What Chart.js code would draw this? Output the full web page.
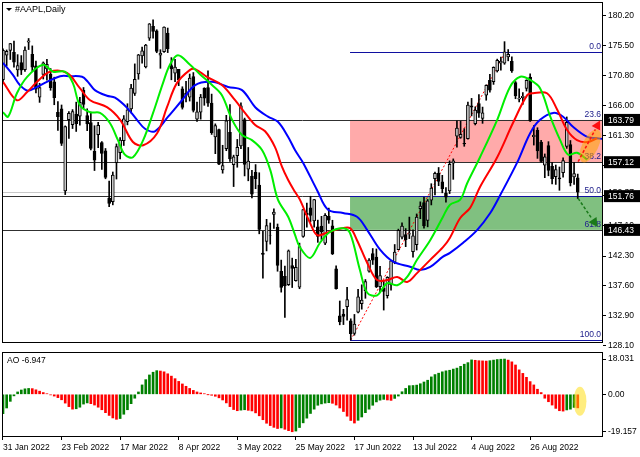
<!DOCTYPE html>
<html>
<head>
<meta charset="utf-8">
<script src="https://cdn.jsdelivr.net/npm/chart.js@4.4.0/dist/chart.umd.min.js"></script>
<style>
    html, body { margin: 0; padding: 0; background: #fff; }
    #wrap { position: relative; width: 640px; height: 457px; overflow: hidden; }
    #graficoPreco { position: absolute; left: 0; top: 0; }
    #graficoAO { position: absolute; left: 0; top: 345px; }
</style>
</head>
<body>
<div id="wrap">
    <canvas id="graficoPreco" width="640" height="350"></canvas>
    <canvas id="graficoAO" width="640" height="112"></canvas>
</div>
<script>
// Dados diários AAPL (31 Jan 2022 ... 15 Sep 2022)
const aberturas = [
    170.16,174.01,174.75,174.48,171.68,172.86,171.73,176.05,174.14,172.33,
    167.37,170.97,171.85,171.03,169.82,164.98,165.54,152.58,163.84,163.06,
    164.70,164.39,168.47,164.49,163.36,158.82,161.48,160.20,158.93,151.45,
    150.90,157.05,158.61,160.51,163.51,165.51,167.99,171.06,173.88,172.17,
    176.69,178.55,177.84,174.03,174.57,177.50,172.36,171.16,171.78,168.71,
    168.02,167.39,170.62,163.92,165.02,168.76,168.91,166.46,161.12,162.25,
    155.91,159.25,161.84,156.71,158.15,159.67,163.85,156.01,154.93,155.52,
    153.50,142.77,144.59,145.55,148.86,146.85,139.88,139.09,137.79,140.81,
    138.43,137.39,145.39,149.07,149.90,147.83,146.90,147.03,144.35,148.58,
    147.08,140.28,132.87,133.13,134.29,132.08,130.07,133.42,134.79,136.82,
    139.90,142.70,142.13,137.46,137.25,136.04,137.77,141.35,143.29,145.26,
    145.67,145.76,142.99,144.08,149.78,150.74,147.92,151.12,154.50,155.39,
    154.01,152.26,152.58,156.98,161.24,161.01,160.10,160.84,166.01,163.21,
    166.37,164.02,167.68,170.06,169.82,171.52,172.78,172.77,173.75,173.03,
    169.69,167.08,167.32,168.78,170.57,161.14,162.13,160.31,156.64,159.75,
    156.47,154.82,154.64,155.47,159.59,159.90,154.79,154.65
];
const maximas = [
    175.00,174.84,175.88,176.24,174.10,173.95,175.35,176.65,175.48,173.08,
    169.58,172.95,173.34,171.91,170.54,166.69,166.15,162.85,165.12,165.42,
    166.60,167.36,168.91,165.55,165.02,162.88,163.41,160.39,159.28,154.12,
    155.57,160.00,161.00,164.48,166.35,169.42,172.64,174.14,175.28,175.73,
    179.01,179.61,178.03,174.88,178.49,178.30,173.63,173.36,171.78,169.03,
    169.87,171.04,171.27,166.60,167.82,168.88,171.53,167.87,163.17,162.34,
    159.79,164.52,166.20,158.23,160.71,166.48,164.08,159.44,155.83,156.74,
    155.45,146.20,148.10,147.52,149.77,147.36,141.66,140.70,143.26,141.97,
    141.79,144.34,149.68,150.66,151.74,151.27,147.97,148.57,149.00,149.87,
    147.95,140.76,135.20,133.89,137.34,132.39,133.08,137.06,137.76,138.59,
    141.91,143.49,143.42,140.67,138.37,139.04,141.61,144.12,146.55,147.55,
    146.64,148.45,146.45,148.95,150.86,151.57,151.23,153.72,155.57,156.28,
    155.04,153.09,157.33,157.64,163.63,163.59,162.41,166.59,167.19,165.85,
    167.81,165.82,169.34,170.99,172.17,173.39,173.71,176.15,174.90,173.74,
    169.86,168.71,168.11,170.14,171.05,162.90,162.56,160.58,158.42,160.36,
    157.09,156.67,156.36,157.82,164.26,160.54,157.10,155.24
];
const minimas = [
    169.51,172.31,173.33,172.12,170.68,170.95,171.43,174.90,171.55,168.04,
    166.56,170.25,170.05,168.47,166.19,162.15,159.75,152.00,160.87,162.43,
    161.97,162.95,165.55,162.10,159.04,155.80,159.41,155.98,154.50,150.10,
    150.38,154.46,157.63,159.76,163.01,164.91,167.65,170.21,172.75,172.00,
    176.34,176.70,174.40,171.94,174.44,174.42,170.13,169.85,169.20,165.50,
    166.64,166.77,165.04,163.57,163.91,166.10,165.91,161.50,158.46,156.72,
    155.38,158.93,157.25,153.27,156.32,159.26,154.95,154.18,151.49,152.93,
    145.81,138.80,143.11,144.18,146.68,139.90,136.60,132.61,137.65,137.33,
    138.34,137.14,145.26,146.84,147.68,146.86,144.46,144.90,144.10,147.46,
    142.53,137.06,131.44,131.48,132.16,129.04,129.81,133.32,133.91,135.63,
    139.77,140.97,137.32,136.67,133.77,135.66,136.93,141.08,143.28,145.00,
    143.78,145.05,142.12,143.25,148.20,146.70,146.91,150.37,151.94,153.41,
    152.28,150.80,152.16,154.41,159.50,160.89,159.63,160.75,164.43,163.00,
    164.20,163.25,166.90,168.19,169.40,171.35,171.66,172.57,173.12,171.31,
    167.14,166.65,166.25,168.35,163.56,159.82,157.72,157.14,154.67,154.97,
    153.69,153.61,152.68,154.75,159.30,153.37,153.61,151.38
];
const fechamentos = [
    174.78,174.61,175.84,172.90,172.39,171.66,174.83,176.28,172.12,168.64,
    168.88,172.79,172.55,168.88,167.30,164.32,160.07,162.74,164.85,165.12,
    163.20,166.56,166.23,163.17,159.30,157.44,162.95,158.52,154.73,150.62,
    155.09,159.59,160.62,163.98,165.38,168.82,170.21,174.07,174.72,175.60,
    178.96,177.77,174.61,174.31,178.44,175.06,171.83,172.14,170.09,165.75,
    167.66,170.40,165.29,165.07,167.40,167.23,166.42,161.79,162.88,156.80,
    156.57,163.64,157.65,157.96,159.48,166.02,156.77,157.28,152.06,154.51,
    146.50,142.56,147.11,145.54,149.24,140.82,137.35,137.59,143.11,140.36,
    140.52,143.78,149.64,148.84,148.71,151.21,145.38,146.14,148.71,147.96,
    142.64,137.13,131.88,132.76,135.43,130.06,131.56,135.87,135.35,138.27,
    141.66,141.66,137.44,139.23,136.72,138.93,141.56,142.92,146.35,147.04,
    144.87,145.86,145.49,148.47,150.17,147.07,151.00,153.04,155.35,154.09,
    152.95,151.60,156.79,157.35,162.51,161.51,160.01,166.13,165.81,165.35,
    164.87,164.92,169.24,168.49,172.10,173.19,173.03,174.55,174.15,171.52,
    167.57,167.23,167.53,170.03,163.62,161.38,158.91,157.22,157.96,155.81,
    154.53,155.96,154.46,157.37,163.43,153.84,155.31,152.37
];

// Alligator: [barra, preço]
const linhaMandibula = [
    [0,172.8],[2.7,170.9],[4.6,169.3],[6.8,168.4],[9.3,169.0],[12,169.8],[15.6,170.7],[18.3,170.7],
    [21.6,170.6],[23.2,169.8],[25.1,168.5],[28.4,167.6],[30.6,167.3],[33.9,165.7],[36.6,163.8],
    [38.8,162.4],[41.5,162.0],[45.1,164.3],[48.9,166.9],[52.5,169.3],[57.1,169.8],[61.5,169.0],
    [65.3,168.5],[68.9,165.8],[72.4,164.3],[75.1,163.5],[77.9,161.1],[79.8,159.0],[82,157.0],
    [85.8,152.7],[88.8,149.6],[92.9,149.1],[96.7,148.5],[99.5,146.4],[103,143.3],[106.6,141.4],
    [111.2,140.6],[113.9,140.1],[116.7,140.6],[120.2,142.2],[122.1,142.8],[125.7,144.4],
    [129.5,146.4],[133.1,149.1],[135.8,151.9],[140.4,157.0],[144,161.7],[146.7,163.8],
    [150.3,164.9],[153,164.3],[155.7,162.7],[159.6,161.1],[162.3,160.9],[165,160.7]
];
const linhaDentes = [
    [0,169.8],[3.8,166.9],[6.6,168.2],[9.3,169.8],[12.8,171.4],[17.5,171.2],[21,168.8],[23.8,166.9],
    [28.4,165.8],[32,163.8],[35.5,160.3],[38.3,159.8],[42.1,161.7],[44.8,165.8],[47.5,169.6],
    [51.1,171.7],[52.5,171.8],[55.7,170.6],[59.8,169.3],[63.4,166.9],[66.1,164.9],[68.9,163.0],
    [71.6,162.0],[74.3,159.5],[76.2,156.4],[77.9,154.3],[79.8,152.4],[81.1,151.2],[83.9,147.5],
    [85.8,145.6],[88.5,146.0],[92.1,146.6],[94.8,146.7],[96.7,144.8],[99.5,141.2],[102.2,138.5],
    [104.9,138.5],[107.7,139.0],[110.4,138.2],[113.1,139.6],[116.7,141.7],[120.2,143.7],
    [122.1,145.2],[124.9,148.3],[127.6,149.9],[130.3,153.2],[135,157.9],[139.3,163.3],
    [143.2,167.7],[144.8,168.0],[148.6,168.0],[151.4,165.4],[154.1,162.2],[156.8,160.6],
    [159.6,160.3],[162.3,160.9]
];
const linhaLabios = [
    [0,165.0],[1.4,164.3],[3.8,168.0],[6.6,170.6],[10.9,172.5],[13.7,171.4],[16.9,171.4],[19.1,169.6],
    [21,166.1],[23.8,165.0],[26.5,164.9],[29.2,163.3],[31.4,160.6],[33.3,158.3],[35.5,157.9],
    [38.3,160.6],[41,164.9],[43.7,169.6],[45.6,172.5],[47.8,174.0],[51.1,172.5],[53.8,171.0],
    [57.1,169.3],[59.8,167.7],[62.6,163.8],[65.3,161.4],[68,160.6],[70.8,159.0],[73,155.9],
    [75.1,151.2],[77.9,148.5],[79.8,145.6],[81.1,143.7],[83.9,142.0],[86.6,144.4],[89.3,146.1],
    [92.9,146.7],[94.8,145.9],[97.5,140.1],[99.5,136.5],[102.2,136.1],[104.9,138.0],[107.7,137.7],
    [110.4,139.0],[113.1,141.7],[116.7,144.8],[120.2,148.5],[122.1,150.4],[124.9,151.2],
    [126.8,153.8],[130.3,157.9],[135,163.8],[138.5,169.0],[141.3,170.6],[144,170.1],[146.7,168.8],
    [149.5,164.3],[152.2,160.6],[154.4,158.3],[156.8,158.6],[159.6,157.5]
];

// Awesome Oscillator
const valoresAO = [
    -9.9,-7.0,-3.6,-0.8,1.2,2.2,2.8,3.0,2.9,2.3,
    1.6,0.9,0.3,-0.3,-0.9,-1.7,-2.8,-4.5,-6.3,-7.6,
    -7.4,-6.6,-5.0,-4.4,-4.8,-5.5,-6.6,-7.9,-9.4,-10.8,
    -12.1,-12.8,-12.4,-10.2,-7.9,-4.8,-2.0,1.2,4.8,7.5,
    9.9,11.3,12.1,11.9,11.5,10.5,9.3,8.0,6.6,5.3,
    4.1,3.0,2.0,1.2,0.7,0.3,-0.1,-0.5,-1.0,-1.8,
    -2.9,-4.4,-6.3,-7.8,-8.4,-8.1,-7.9,-8.2,-8.5,-9.5,
    -11.0,-13.0,-14.8,-16.0,-16.9,-17.5,-17.2,-17.9,-18.6,-19.157,
    -18.8,-17.0,-14.6,-12.2,-9.8,-7.6,-5.6,-4.9,-4.5,-4.3,
    -4.6,-5.5,-7.0,-8.8,-11.2,-13.4,-14.7,-13.3,-11.6,-9.4,
    -7.6,-5.6,-3.9,-3.0,-2.6,-2.9,-3.1,-2.1,-0.9,1.3,
    3.0,4.4,4.5,4.7,5.4,6.3,7.2,8.9,10.1,10.8,
    11.5,12.0,12.3,12.9,13.4,14.3,15.4,16.2,17.6,17.4,
    17.2,17.1,17.0,17.2,17.5,17.8,17.95,18.031,17.5,16.6,
    15.0,12.5,10.7,8.7,6.5,4.8,2.6,0.9,-2.0,-3.8,
    -5.5,-7.2,-8.4,-8.6,-8.0,-7.6,-6.7,-6.947
];

// Eixos
const datasIdx = [0, 16, 32, 48, 64, 80, 96, 112, 128, 144];
const datasTexto = ['31 Jan 2022', '23 Feb 2022', '17 Mar 2022', '8 Apr 2022', '3 May 2022',
    '25 May 2022', '17 Jun 2022', '13 Jul 2022', '4 Aug 2022', '26 Aug 2022'];
const precoTicks = [180.20, 175.50, 170.80, 166.00, 161.30, 156.60, 151.90, 147.10, 142.30, 137.60, 132.90, 128.10];
const aoTicks = [18.031, 0, -19.157];

// Fibonacci e níveis
const fibInicio = 94.8;
const fibNiveis = [
    {v: 174.52, t: '0.0'}, {v: 163.79, t: '23.6'}, {v: 157.12, t: '38.2'},
    {v: 151.76, t: '50.0'}, {v: 146.43, t: '61.8'}, {v: 129.04, t: '100.0'}
];
const fibAzuis = [174.52, 151.76, 129.04];
const niveisPretos = [163.79, 157.12, 151.76, 146.43];
const zonas = [
    {topo: 163.79, base: 157.12, cor: '#ffaaaa'},
    {topo: 151.76, base: 146.43, cor: '#80c080'}
];
const diagonalFib = [[95, 129.04], [137.2, 174.52]];
const setaAlta = [[157.1, 157.2], [163.1, 163.7]];
const setaBaixa = [[157.1, 151.4], [162.4, 146.9]];
const elipseLaranja = [160.4, 159.7];
const elipseAmarela = [157.6, -3.5];

Chart.defaults.font.family = "'Liberation Sans', Arial, sans-serif";
Chart.defaults.font.size = 8.5;
Chart.defaults.color = '#000';
Chart.defaults.animation = false;

const X_MIN = -0.27, X_MAX = 163.9;
const indices = fechamentos.map((_, i) => i);

function seta(ctx, p1, p2, cor) {
    const ang = Math.atan2(p2.y - p1.y, p2.x - p1.x);
    const cab = 10;
    ctx.save();
    ctx.strokeStyle = cor;
    ctx.fillStyle = cor;
    ctx.lineWidth = 1.5;
    ctx.setLineDash([3, 2]);
    ctx.beginPath();
    ctx.moveTo(p1.x, p1.y);
    ctx.lineTo(p2.x - cab * Math.cos(ang), p2.y - cab * Math.sin(ang));
    ctx.stroke();
    ctx.setLineDash([]);
    ctx.beginPath();
    ctx.moveTo(p2.x, p2.y);
    ctx.lineTo(p2.x - cab * Math.cos(ang - 0.5), p2.y - cab * Math.sin(ang - 0.5));
    ctx.lineTo(p2.x - cab * Math.cos(ang + 0.5), p2.y - cab * Math.sin(ang + 0.5));
    ctx.closePath();
    ctx.fill();
    ctx.restore();
}

function moldura(ctx, a) {
    ctx.save();
    ctx.strokeStyle = '#000';
    ctx.lineWidth = 1;
    ctx.strokeRect(Math.round(a.left) + 0.5, Math.round(a.top) + 0.5,
        Math.round(a.right - a.left) - 1, Math.round(a.bottom - a.top) - 1);
    ctx.restore();
}

const desenhoPreco = {
    id: 'desenhoPreco',
    beforeDatasetsDraw(chart) {
        const {ctx, chartArea: a, scales: {x, y}} = chart;
        ctx.save();
        ctx.beginPath();
        ctx.rect(a.left, a.top, a.right - a.left, a.bottom - a.top);
        ctx.clip();
        const x0 = x.getPixelForValue(fibInicio);

        // Zonas coloridas
        zonas.forEach(z => {
            const y1 = y.getPixelForValue(z.topo);
            const y2 = y.getPixelForValue(z.base);
            ctx.fillStyle = z.cor;
            ctx.fillRect(x0, y1, a.right - x0, y2 - y1);
        });

        // Linha do preço atual
        const yBid = Math.round(y.getPixelForValue(fechamentos[fechamentos.length - 1])) + 0.5;
        ctx.strokeStyle = '#c8c8c8';
        ctx.lineWidth = 1;
        ctx.beginPath();
        ctx.moveTo(a.left, yBid);
        ctx.lineTo(a.right, yBid);
        ctx.stroke();

        // Níveis horizontais
        ctx.strokeStyle = '#303030';
        niveisPretos.forEach(v => {
            const py = Math.round(y.getPixelForValue(v)) + 0.5;
            ctx.beginPath();
            ctx.moveTo(a.left, py);
            ctx.lineTo(a.right, py);
            ctx.stroke();
        });

        // Fibonacci
        ctx.strokeStyle = '#1010a0';
        fibAzuis.forEach(v => {
            const py = Math.round(y.getPixelForValue(v)) + 0.5;
            ctx.beginPath();
            ctx.moveTo(x0, py);
            ctx.lineTo(a.right, py);
            ctx.stroke();
        });

        ctx.strokeStyle = '#ff0000';
        ctx.setLineDash([2, 2]);
        ctx.beginPath();
        ctx.moveTo(x.getPixelForValue(diagonalFib[0][0]), y.getPixelForValue(diagonalFib[0][1]));
        ctx.lineTo(x.getPixelForValue(diagonalFib[1][0]), y.getPixelForValue(diagonalFib[1][1]));
        ctx.stroke();
        ctx.restore();
    },
    afterDatasetsDraw(chart) {
        const {ctx, chartArea: a, scales: {x, y}} = chart;
        ctx.save();
        ctx.beginPath();
        ctx.rect(a.left, a.top, a.right - a.left, a.bottom - a.top);
        ctx.clip();

        // Rótulos Fibonacci
        ctx.fillStyle = '#20208c';
        ctx.font = "8.5px 'Liberation Sans', Arial, sans-serif";
        ctx.textAlign = 'right';
        ctx.textBaseline = 'bottom';
        fibNiveis.forEach(f => {
            ctx.fillText(f.t, a.right - 2, y.getPixelForValue(f.v) - 1);
        });

        // Destaque laranja
        ctx.fillStyle = 'rgba(255,165,0,0.55)';
        ctx.beginPath();
        ctx.ellipse(x.getPixelForValue(elipseLaranja[0]), y.getPixelForValue(elipseLaranja[1]), 8, 18, 0.45, 0, Math.PI * 2);
        ctx.fill();

        // Setas
        seta(ctx,
            {x: x.getPixelForValue(setaAlta[0][0]), y: y.getPixelForValue(setaAlta[0][1])},
            {x: x.getPixelForValue(setaAlta[1][0]), y: y.getPixelForValue(setaAlta[1][1])}, '#ff1010');
        seta(ctx,
            {x: x.getPixelForValue(setaBaixa[0][0]), y: y.getPixelForValue(setaBaixa[0][1])},
            {x: x.getPixelForValue(setaBaixa[1][0]), y: y.getPixelForValue(setaBaixa[1][1])}, '#1a7a1a');

        // Título
        ctx.fillStyle = '#000';
        ctx.beginPath();
        ctx.moveTo(a.left + 4, a.top + 6);
        ctx.lineTo(a.left + 10, a.top + 6);
        ctx.lineTo(a.left + 7, a.top + 9);
        ctx.closePath();
        ctx.fill();
        ctx.textAlign = 'left';
        ctx.textBaseline = 'middle';
        ctx.font = "9px 'Liberation Sans', Arial, sans-serif";
        ctx.fillText('#AAPL,Daily', a.left + 13, a.top + 8);
        ctx.restore();

        moldura(ctx, a);
    },
    afterDraw(chart) {
        const {ctx, chartArea: a, scales: {y}} = chart;
        ctx.save();
        ctx.font = "8.5px 'Liberation Sans', Arial, sans-serif";
        ctx.textBaseline = 'middle';
        ctx.textAlign = 'left';

        // Preço atual (parcialmente coberto)
        const ult = fechamentos[fechamentos.length - 1];
        ctx.fillStyle = '#000';
        ctx.fillText(ult.toFixed(2), a.right + 5, y.getPixelForValue(ult));

        // Caixas dos níveis
        niveisPretos.forEach(v => {
            const py = y.getPixelForValue(v);
            ctx.fillStyle = '#000';
            ctx.fillRect(a.right + 1, py - 6, chart.width - a.right - 1, 12);
            ctx.fillStyle = '#fff';
            ctx.fillText(v.toFixed(2), a.right + 5, py + 0.5);
        });
        ctx.restore();
    }
};

const desenhoAO = {
    id: 'desenhoAO',
    afterDatasetsDraw(chart) {
        const {ctx, chartArea: a, scales: {x, y}} = chart;
        ctx.save();
        ctx.fillStyle = 'rgba(255,220,0,0.5)';
        ctx.beginPath();
        ctx.ellipse(x.getPixelForValue(elipseAmarela[0]), y.getPixelForValue(elipseAmarela[1]), 6.5, 14.5, 0, 0, Math.PI * 2);
        ctx.fill();

        ctx.fillStyle = '#000';
        ctx.font = "8.5px 'Liberation Sans', Arial, sans-serif";
        ctx.textAlign = 'left';
        ctx.textBaseline = 'middle';
        ctx.fillText('AO ' + valoresAO[valoresAO.length - 1].toFixed(3), a.left + 5, a.top + 9);
        ctx.restore();
        moldura(ctx, a);
    }
};

function eixoX(mostrar) {
    return {
        type: 'linear',
        min: X_MIN,
        max: X_MAX,
        bounds: 'data',
        offset: false,
        display: mostrar,
        afterBuildTicks: (s) => { s.ticks = datasIdx.map(v => ({value: v})); },
        afterFit: (s) => {
            s.height = mostrar ? 20 : 0;
            s.paddingLeft = 0;
            s.paddingRight = 0;
        },
        grid: {drawOnChartArea: false, drawTicks: true, tickLength: 3, color: '#000', offset: false},
        border: {display: false},
        ticks: {
            autoSkip: false,
            maxRotation: 0,
            align: 'start',
            padding: 3,
            callback: (v, i) => datasTexto[i]
        }
    };
}

function eixoY(min, max, ticks, formato) {
    return {
        type: 'linear',
        position: 'right',
        min: min,
        max: max,
        bounds: 'data',
        beginAtZero: false,
        afterBuildTicks: (s) => { s.ticks = ticks.map(v => ({value: v})); },
        afterFit: (s) => { s.width = 37; s.paddingTop = 0; s.paddingBottom = 0; },
        grid: {drawOnChartArea: false, drawTicks: true, tickLength: 3, color: '#000'},
        border: {display: false},
        ticks: {padding: 2, callback: formato}
    };
}

// Gráfico de preços
new Chart(document.getElementById('graficoPreco'), {
    type: 'bar',
    data: {
        datasets: [
            {
                type: 'line', label: 'Lábios', order: 0,
                data: linhaLabios.map(p => ({x: p[0], y: p[1]})),
                borderColor: '#00ee00', borderWidth: 2, pointRadius: 0, tension: 0.35, fill: false
            },
            {
                type: 'line', label: 'Dentes', order: 0,
                data: linhaDentes.map(p => ({x: p[0], y: p[1]})),
                borderColor: '#ff0000', borderWidth: 2, pointRadius: 0, tension: 0.35, fill: false
            },
            {
                type: 'line', label: 'Mandíbula', order: 0,
                data: linhaMandibula.map(p => ({x: p[0], y: p[1]})),
                borderColor: '#0000ff', borderWidth: 2, pointRadius: 0, tension: 0.35, fill: false
            },
            {
                label: 'Corpo', order: 1, grouped: false,
                data: indices.map(i => ({x: i, y: [aberturas[i], fechamentos[i]]})),
                backgroundColor: indices.map(i => fechamentos[i] >= aberturas[i] ? '#c8c8c8' : '#000000'),
                borderColor: '#000', borderWidth: 1, borderSkipped: false, barThickness: 3
            },
            {
                label: 'Pavio', order: 2, grouped: false,
                data: indices.map(i => ({x: i, y: [minimas[i], maximas[i]]})),
                backgroundColor: '#000', barThickness: 1
            }
        ]
    },
    options: {
        responsive: false,
        devicePixelRatio: 1,
        layout: {padding: {left: 2, top: 2, right: 0, bottom: 7}},
        plugins: {legend: {display: false}, tooltip: {enabled: false}},
        scales: {
            x: eixoX(false),
            y: eixoY(128.57, 182.41, precoTicks, v => v.toFixed(2))
        }
    },
    plugins: [desenhoPreco]
});

// Gráfico AO
new Chart(document.getElementById('graficoAO'), {
    type: 'bar',
    data: {
        datasets: [{
            label: 'AO',
            data: indices.map(i => ({x: i, y: valoresAO[i]})),
            backgroundColor: indices.map(i => (i === 0 || valoresAO[i] >= valoresAO[i - 1]) ? '#008000' : '#ff0000'),
            barThickness: 2,
            grouped: false
        }]
    },
    options: {
        responsive: false,
        devicePixelRatio: 1,
        layout: {padding: {left: 2, top: 7, right: 0, bottom: 0}},
        plugins: {legend: {display: false}, tooltip: {enabled: false}},
        scales: {
            x: eixoX(true),
            y: eixoY(-21.84, 21.64, aoTicks, v => v === 0 ? '0.00' : v.toFixed(3))
        }
    },
    plugins: [desenhoAO]
});
</script>
</body>
</html>
